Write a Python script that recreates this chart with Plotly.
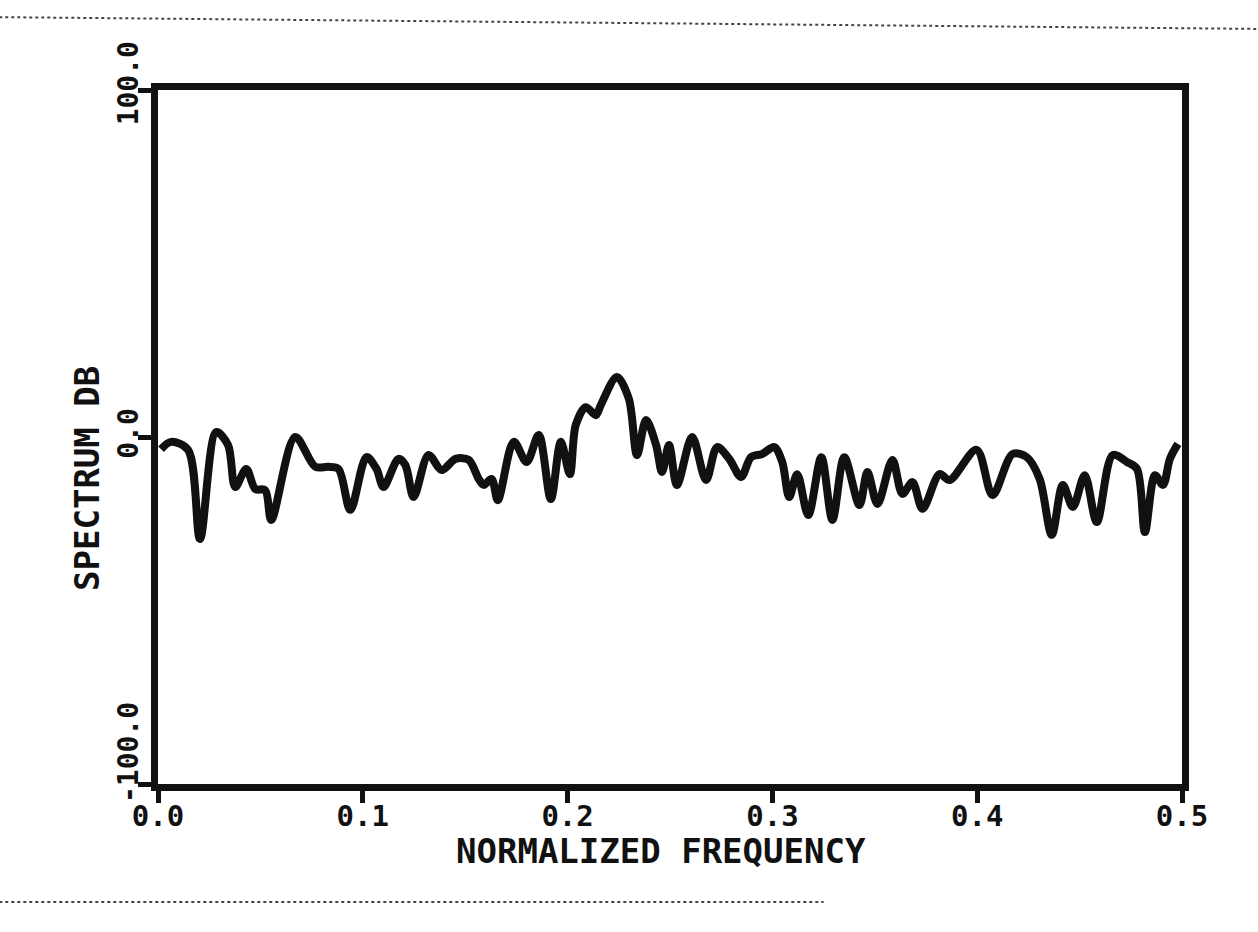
import plotly.graph_objects as go

freq = [0.0015, 0.0064, 0.0147, 0.0205, 0.0284, 0.0342, 0.0377, 0.0431, 0.0475, 0.0523,
        0.0553, 0.0670, 0.0768, 0.0832, 0.0881, 0.0939, 0.1018, 0.1067, 0.1101, 0.1174,
        0.1208, 0.1248, 0.1321, 0.1385, 0.1453, 0.1517, 0.1566, 0.1590, 0.1629, 0.1659,
        0.1737, 0.1800, 0.1859, 0.1918, 0.1967, 0.2011, 0.2040, 0.2089, 0.2138, 0.2162,
        0.2241, 0.2299, 0.2339, 0.2383, 0.2432, 0.2461, 0.2495, 0.2534, 0.2608, 0.2676,
        0.2730, 0.2789, 0.2847, 0.2896, 0.2950, 0.3009, 0.3048, 0.3082, 0.3121, 0.3175,
        0.3239, 0.3293, 0.3351, 0.3425, 0.3464, 0.3513, 0.3586, 0.3635, 0.3684, 0.3733,
        0.3816, 0.3865, 0.3997, 0.4075, 0.4173, 0.4242, 0.4305, 0.4364, 0.4418, 0.4467,
        0.4525, 0.4584, 0.4662, 0.4731, 0.4780, 0.4819, 0.4868, 0.4907, 0.4941, 0.4980]

spectrum_db = [-3.5, -1.4, -3.7, -29.4, 1.4, -2.3, -14.4, -9.2, -15.0, -15.3,
               -23.9, 0.0, -8.6, -8.6, -9.2, -21.0, -5.8, -9.2, -14.4, -6.3,
               -8.1, -17.3, -5.2, -9.5, -6.3, -6.6, -12.1, -13.8, -12.1, -18.2,
               -1.4, -7.2, 0.6, -17.9, -1.4, -10.7, 3.5, 8.6, 6.3, 9.2,
               17.3, 11.0, -5.2, 4.9, -2.3, -10.1, -2.3, -13.8, 0.0, -12.4,
               -2.9, -6.3, -11.5, -5.8, -4.9, -2.9, -7.2, -17.3, -10.7, -22.5,
               -5.8, -23.9, -5.8, -19.6, -10.1, -19.3, -6.6, -16.4, -13.0, -20.7,
               -10.7, -12.4, -3.7, -16.7, -4.9, -5.8, -12.1, -28.2, -13.8, -20.2,
               -11.0, -24.5, -5.2, -7.2, -9.2, -27.4, -11.0, -13.8, -6.3, -2.0]

x_ticks = [0.0, 0.1, 0.2, 0.3, 0.4, 0.5]
x_tick_labels = ["0.0", "0.1", "0.2", "0.3", "0.4", "0.5"]
y_ticks = [-100, 0, 100]
y_tick_labels = ["-100.0", "0.0", "100.0"]
y_label_pos = [-91, 1, 102]

font_family = "DejaVu Sans Mono"
ink = "#111111"
y_range = [-100, 100]

fig = go.Figure()
fig.add_trace(go.Scatter(
    x=freq, y=spectrum_db, mode="lines",
    line=dict(color=ink, width=8, shape="spline", smoothing=0.9),
    showlegend=False, hoverinfo="skip"))

annotations = [
    dict(text="<b>NORMALIZED FREQUENCY</b>", xref="paper", yref="paper",
         x=0.491, y=-0.097, xanchor="center", yanchor="middle",
         showarrow=False, font=dict(family=font_family, size=34, color=ink)),
    dict(text="<b>SPECTRUM DB</b>", xref="paper", yref="paper",
         x=-0.07, y=0.44, xanchor="center", yanchor="middle", textangle=-90,
         showarrow=False, font=dict(family=font_family, size=34, color=ink)),
]
for lab, pos in zip(y_tick_labels, y_label_pos):
    frac = (pos - y_range[0]) / (y_range[1] - y_range[0])
    annotations.append(dict(text="<b>" + lab + "</b>", xref="paper", yref="paper",
                            x=-0.029, y=frac, xanchor="center", yanchor="middle",
                            textangle=-90, showarrow=False,
                            font=dict(family=font_family, size=28, color=ink)))

fig.update_layout(
    width=1258, height=932,
    margin=dict(l=158, r=76, t=90, b=148),
    paper_bgcolor="white", plot_bgcolor="white",
    font=dict(family=font_family, color=ink),
    xaxis=dict(range=[0, 0.5], tickvals=x_ticks, ticktext=x_tick_labels,
               showgrid=False, zeroline=False, showline=True, mirror=True,
               linecolor=ink, linewidth=7, ticks="outside", ticklen=12,
               tickwidth=5, tickcolor=ink, ticklabelstandoff=-12,
               tickfont=dict(family=font_family, size=29, weight="bold")),
    yaxis=dict(range=y_range, tickvals=y_ticks, showticklabels=False,
               showgrid=False, zeroline=False, showline=True, mirror=True,
               linecolor=ink, linewidth=7, ticks="outside", ticklen=13,
               tickwidth=5, tickcolor=ink),
    annotations=annotations,
    shapes=[
        dict(type="line", xref="paper", yref="paper", x0=-0.155, x1=1.075,
             y0=1.105, y1=1.088, line=dict(color="#444444", width=2, dash="dot")),
        dict(type="line", xref="paper", yref="paper", x0=-0.155, x1=0.65,
             y0=-0.17, y1=-0.17, line=dict(color="#444444", width=2, dash="dot")),
    ],
)

fig.write_html("out.html")
